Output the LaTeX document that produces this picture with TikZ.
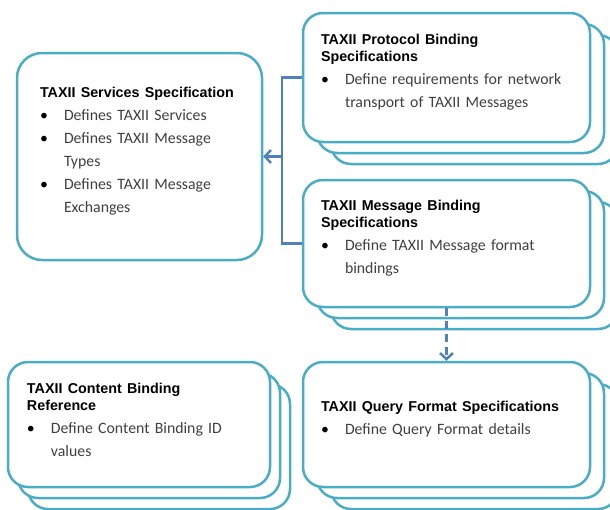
\documentclass[tikz,border=0pt]{standalone}
\usepackage{fontspec}
\setmainfont{Carlito}
\newfontfamily\headfont{Liberation Sans}
\usetikzlibrary{shadows,arrows.meta}

\definecolor{boxline}{RGB}{75,172,198}
\definecolor{linkline}{RGB}{79,129,189}
\definecolor{bodytext}{RGB}{64,64,64}

\newcommand{\spechead}[1]{{\headfont\bfseries\fontsize{14.3}{17}\selectfont\color{black}#1\par}}
\newcommand{\specitem}[1]{\par\noindent\hangindent=24pt\makebox[24pt][l]{\color{black}\textbullet}#1\par}

\tikzset{
  specbox/.style={draw=boxline, line width=2.5pt, fill=white, rounded corners=20pt,
    text width=251pt, align=left, inner sep=0pt, text=bodytext,
    font=\fontsize{15.8}{23}\selectfont},
  stack/.style={double copy shadow={shadow xshift=#1, shadow yshift=-11pt,
    draw=boxline, line width=2.5pt, fill=white}},
  stack/.default=14pt,
  link/.style={draw=linkline, line width=2.5pt},
}

\begin{document}
\begin{tikzpicture}[x=1pt,y=-1pt]
        \useasboundingbox (0,0) rectangle (610,509);

        \coordinate (S) at (139.5,156.5);
        \coordinate (P) at (446.5,77.5);
        \coordinate (M) at (446.5,243.5);
        \coordinate (Q) at (446.5,424.5);
        \coordinate (C) at (139,424.5);
        \coordinate (bus) at (282,156.5);

        \node[specbox, rounded corners=25pt, text width=199pt,
              minimum width=245pt, minimum height=207pt] (services) at (S) {%
          \spechead{TAXII Services Specification}
          \specitem{Defines TAXII Services}
          \specitem{Defines TAXII Message\newline Types}
          \specitem{Defines TAXII Message\newline Exchanges}
          \vspace*{10pt}};

        \node[specbox, stack, minimum width=287pt, minimum height=129pt] (protocol) at (P) {%
          \spechead{TAXII Protocol Binding\\Specifications}
          \specitem{Define requirements for network\newline transport of TAXII Messages}
          \vspace*{10pt}};

        \node[specbox, stack, minimum width=287pt, minimum height=127pt] (message) at (M) {%
          \spechead{TAXII Message Binding\\Specifications}
          \specitem{Define TAXII Message format\newline bindings}
          \vspace*{10pt}};

        \node[specbox, stack, minimum width=287pt, minimum height=125pt] (query) at (Q) {%
          \spechead{TAXII Query Format Specifications}
          \specitem{Define Query Format details}
          \vspace*{10pt}};

        \node[specbox, stack=10pt, text width=224pt,
              minimum width=262pt, minimum height=125pt] (content) at (C) {%
          \spechead{TAXII Content Binding\\Reference}
          \specitem{Define Content Binding ID\newline values}
          \vspace*{10pt}};

        \draw[link] (protocol.west) -| (bus) |- (message.west);
        \draw[link, -{Straight Barb[length=6pt,width=13pt]}] (bus) -- (services.east);
        \draw[link, dash pattern=on 8pt off 5pt, -{Straight Barb[length=6pt,width=13pt]}]
          (message.south) -- (query.north);
\end{tikzpicture}
\end{document}
